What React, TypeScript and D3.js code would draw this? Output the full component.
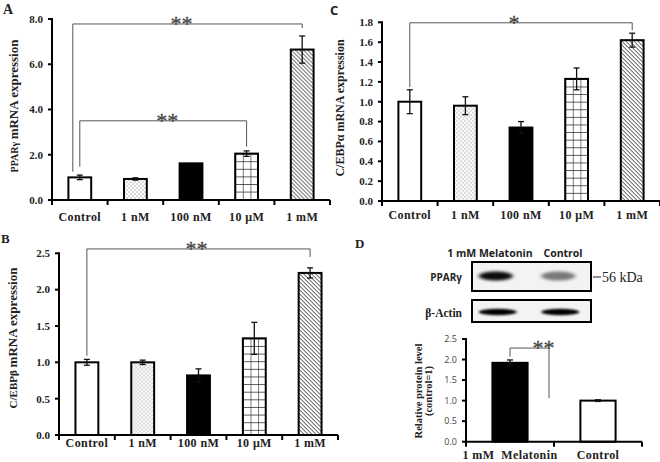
import React from 'react';
import * as d3 from 'd3';

// ---------- DATA ----------
const categories = ['Control', '1 nM', '100 nM', '10 μM', '1 mM'];
const fillKinds = ['white', 'dots', 'black', 'grid', 'diag'];

const pparValues = [1.0, 0.93, 1.62, 2.05, 6.65];
const pparErrors = [0.1, 0.05, 0, 0.12, 0.6];
const pparTicks = [0, 2, 4, 6, 8];

const cebpaValues = [1.0, 0.96, 0.74, 1.23, 1.62];
const cebpaErrors = [0.12, 0.09, 0.06, 0.11, 0.07];
const cebpaTicks = [0, 0.2, 0.4, 0.6, 0.8, 1.0, 1.2, 1.4, 1.6, 1.8];

const cebpbValues = [1.0, 1.0, 0.82, 1.33, 2.23];
const cebpbErrors = [0.04, 0.03, 0.09, 0.22, 0.07];
const cebpbTicks = [0, 0.5, 1.0, 1.5, 2.0, 2.5];

const proteinCategories = ['1 mM  Melatonin', 'Control'];
const proteinFills = ['black', 'white'];
const proteinValues = [1.92, 1.0];
const proteinErrors = [0.07, 0.02];
const proteinTicks = [0, 0.5, 1.0, 1.5, 2.0, 2.5];

const blotLanes = ['1 mM Melatonin', 'Control'];
const pparBandIntensity = [0.95, 0.5];
const actinBandIntensity = [1.0, 1.0];

// ---------- LAYOUT ----------
const serif = '"Liberation Serif", "Times New Roman", serif';
const sans = '"Open Sans", "Noto Sans", sans-serif';

type Bracket = { from: number; to: number; level: number; fromEnd: number; toEnd: number; dxFrom?: number; dxTo?: number; starDx?: number; text: string };

type PanelCfg = {
  id: string;
  cats: string[];
  fills: string[];
  values: number[];
  errors: number[];
  ticks: number[];
  max: number;
  x0: number; x1: number; yb: number; yt: number;
  pad: number;
  labelX: number; labelY: number;
  labelParts: [string, number][];
  labelLines?: string[];
  xLabelY: number;
  xLabelSize: number;
  tickFont: string; tickSize: number; tickColor: string;
  brackets: Bracket[];
};

const panels: PanelCfg[] = [
  {
    id: 'A', cats: categories, fills: fillKinds, values: pparValues, errors: pparErrors, ticks: pparTicks, max: 8,
    x0: 52, x1: 330, yb: 200, yt: 19, pad: 0.59,
    labelX: 12, labelY: 106, labelParts: [['PPARγ ', 10], ['mRNA expression', 13]],
    xLabelY: 221, xLabelSize: 12, tickFont: serif, tickSize: 11, tickColor: '#222',
    brackets: [
      { from: 0, to: 4, level: 7.78, fromEnd: 1.25, toEnd: 7.6, dxFrom: -7, starDx: -6, text: '**' },
      { from: 0, to: 3, level: 3.5, fromEnd: 1.47, toEnd: 2.36, starDx: 4, text: '**' },
    ],
  },
  {
    id: 'C', cats: categories, fills: fillKinds, values: cebpaValues, errors: cebpaErrors, ticks: cebpaTicks, max: 1.8,
    x0: 382, x1: 660, yb: 201, yt: 22.3, pad: 0.59,
    labelX: 338, labelY: 108, labelParts: [['C/EBPα mRNA expression', 12]],
    xLabelY: 219, xLabelSize: 12, tickFont: serif, tickSize: 11, tickColor: '#222',
    brackets: [{ from: 0, to: 4, level: 1.795, fromEnd: 1.148, toEnd: 1.72, starDx: -7, text: '*' }],
  },
  {
    id: 'B', cats: categories, fills: fillKinds, values: cebpbValues, errors: cebpbErrors, ticks: cebpbTicks, max: 2.5,
    x0: 59, x1: 338, yb: 435, yt: 253.3, pad: 0.59,
    labelX: 11, labelY: 338, labelParts: [['C/EBPβ ', 11], ['mRNA expression', 13]],
    xLabelY: 447, xLabelSize: 12, tickFont: serif, tickSize: 11, tickColor: '#222',
    brackets: [{ from: 0, to: 4, level: 2.56, fromEnd: 1.09, toEnd: 2.45, starDx: -2, text: '**' }],
  },
  {
    id: 'D', cats: proteinCategories, fills: proteinFills, values: proteinValues, errors: proteinErrors, ticks: proteinTicks, max: 2.5,
    x0: 466, x1: 642, yb: 441.7, yt: 339, pad: 0.6,
    labelX: 418, labelY: 391, labelParts: [], labelLines: ['Relative protein level', '(control=1)'],
    xLabelY: 459, xLabelSize: 12, tickFont: sans, tickSize: 9, tickColor: '#444',
    brackets: [{ from: 0, to: 1, level: 2.28, fromEnd: 2.07, toEnd: 1.06, dxTo: -49, starDx: 14, text: '**' }],
  },
];

function fillFor(kind: string, pid: string) {
  if (kind === 'white') return '#fff';
  if (kind === 'black') return '#000';
  return `url(#${kind}-${pid})`;
}

function Panel({ cfg }: { cfg: PanelCfg }) {
  const x = d3.scaleBand<string>().domain(cfg.cats).range([cfg.x0, cfg.x1]).paddingInner(cfg.pad).paddingOuter(cfg.pad / 2);
  const y = d3.scaleLinear().domain([0, cfg.max]).range([cfg.yb, cfg.yt]);
  const bw = x.bandwidth();
  const step = x.step();
  const fmt = d3.format('.1f');
  const bounds = d3.range(cfg.cats.length + 1).map(i => cfg.x0 + i * step);
  const cx = (i: number) => (x(cfg.cats[i]) as number) + bw / 2;
  return (
    <g>
      <defs>
        {cfg.cats.map((c, i) => {
          const k = cfg.fills[i];
          const bx = x(c) as number;
          const by = y(cfg.values[i]);
          if (k === 'grid')
            return (
              <pattern key={i} id={`grid-${cfg.id}`} patternUnits="userSpaceOnUse" width={bw / 3} height={bw / 3} x={bx} y={by}>
                <rect width={bw / 3} height={bw / 3} fill="#fff" />
                <path d={`M0,0H${bw / 3}M0,0V${bw / 3}`} stroke="#222" strokeWidth={1.2} />
              </pattern>
            );
          if (k === 'dots')
            return (
              <pattern key={i} id={`dots-${cfg.id}`} patternUnits="userSpaceOnUse" width={4} height={4} x={bx} y={by}>
                <rect width={4} height={4} fill="#fff" />
                <circle cx={1} cy={1} r={0.55} fill="#555" />
                <circle cx={3} cy={3} r={0.55} fill="#555" />
              </pattern>
            );
          if (k === 'diag')
            return (
              <pattern key={i} id={`diag-${cfg.id}`} patternUnits="userSpaceOnUse" width={4} height={4} x={bx} y={by}>
                <rect width={4} height={4} fill="#fff" />
                <path d="M-1,-1L5,5M-1,3L1,5M3,-1L5,1" stroke="#333" strokeWidth={1} />
              </pattern>
            );
          return null;
        })}
      </defs>
      {/* bars */}
      {cfg.cats.map((c, i) => (
        <rect key={c} x={x(c)} y={y(cfg.values[i])} width={bw} height={y(0) - y(cfg.values[i])}
          fill={fillFor(cfg.fills[i], cfg.id)} stroke="#000" strokeWidth={2} />
      ))}
      {/* error bars */}
      {cfg.cats.map((c, i) => {
        const e = cfg.errors[i];
        if (!e) return null;
        const xc = cx(i);
        const t = y(cfg.values[i] + e), b = y(cfg.values[i] - e);
        return (
          <g key={c} stroke="#111" strokeWidth={1.3}>
            <line x1={xc} x2={xc} y1={t} y2={b} />
            <line x1={xc - 3} x2={xc + 3} y1={t} y2={t} />
            <line x1={xc - 3} x2={xc + 3} y1={b} y2={b} />
          </g>
        );
      })}
      {/* axes */}
      <g stroke="#000" strokeWidth={2}>
        <line x1={cfg.x0} x2={cfg.x0} y1={cfg.yt - 1} y2={cfg.yb + 1} />
        <line x1={cfg.x0 - 1} x2={cfg.x1} y1={cfg.yb} y2={cfg.yb} />
        {cfg.ticks.map(t => (
          <line key={t} x1={cfg.x0 - 4} x2={cfg.x0} y1={y(t)} y2={y(t)} />
        ))}
        {bounds.map((b, i) => (
          <line key={i} x1={b} x2={b} y1={cfg.yb} y2={cfg.yb + 5} />
        ))}
      </g>
      {cfg.ticks.map(t => (
        <text key={t} x={cfg.x0 - 9} y={y(t)} dy="0.35em" textAnchor="end" fontFamily={cfg.tickFont}
          fontWeight={cfg.tickFont === serif ? 'bold' : 'normal'} fontSize={cfg.tickSize} fill={cfg.tickColor}>
          {fmt(t)}
        </text>
      ))}
      {cfg.cats.map((c, i) => (
        <text key={c} x={cx(i)} y={cfg.xLabelY} textAnchor="middle" fontFamily={serif} fontWeight="bold"
          fontSize={cfg.xLabelSize} letterSpacing={0.4} fill="#222" style={{ whiteSpace: 'pre' }}>
          {c}
        </text>
      ))}
      {/* y label */}
      {cfg.labelLines ? (
        cfg.labelLines.map((l, i) => (
          <text key={l} transform={`translate(${cfg.labelX + i * 10},${cfg.labelY}) rotate(-90)`} textAnchor="middle"
            dy="0.35em" fontFamily={serif} fontWeight="bold" fontSize={10.5} fill="#222">{l}</text>
        ))
      ) : (
        <text transform={`translate(${cfg.labelX},${cfg.labelY}) rotate(-90)`} textAnchor="middle" dy="0.35em"
          fontFamily={serif} fontWeight="bold" fill="#222" style={{ whiteSpace: 'pre' }}>
          {cfg.labelParts.map(([s, fs], i) => (
            <tspan key={i} fontSize={fs}>{s}</tspan>
          ))}
        </text>
      )}
      {/* significance brackets */}
      {cfg.brackets.map((br, i) => {
        const xa = cx(br.from) + (br.dxFrom || 0);
        const xb = cx(br.to) + (br.dxTo || 0);
        const ly = y(br.level);
        return (
          <g key={i}>
            <path d={`M${xa},${y(br.fromEnd)}V${ly}H${xb}V${y(br.toEnd)}`} fill="none" stroke="#555" strokeWidth={1} />
            <text x={(xa + xb) / 2 + (br.starDx || 0)} y={ly + 7} textAnchor="middle" fontFamily={serif}
              fontSize={22} fill="#444" stroke="#444" strokeWidth={0.3}>{br.text}</text>
          </g>
        );
      })}
    </g>
  );
}

function Blot() {
  const bx = d3.scaleBand<string>().domain(blotLanes).range([472, 591]).paddingInner(0.1).paddingOuter(0.05);
  const bw = bx.bandwidth();
  const headerX = [490, 563];
  return (
    <g>
      <defs>
        <filter id="blur1" x="-50%" y="-100%" width="200%" height="300%">
          <feGaussianBlur stdDeviation="2.2 1.6" />
        </filter>
        <filter id="blur2" x="-50%" y="-100%" width="200%" height="300%">
          <feGaussianBlur stdDeviation="1.5 1.0" />
        </filter>
      </defs>
      {blotLanes.map((l, i) => (
        <text key={l} x={headerX[i]} y={257} textAnchor="middle" fontFamily={sans} fontWeight="bold"
          fontSize={10.5} fill="#222">{l}</text>
      ))}
      <rect x={472} y={262} width={119} height={29} fill="#f3f3f3" stroke="#000" strokeWidth={2} />
      {blotLanes.map((l, i) => (
        <ellipse key={l} cx={(bx(l) as number) + bw / 2 - 6 + i * 3} cy={276} rx={17} ry={4.5} fill="#000"
          opacity={pparBandIntensity[i]} filter="url(#blur1)" />
      ))}
      <rect x={472} y={300} width={119} height={22} fill="#f3f3f3" stroke="#000" strokeWidth={2} />
      {blotLanes.map((l, i) => (
        <ellipse key={l} cx={(bx(l) as number) + bw / 2 - 4 + i * 3} cy={312} rx={19} ry={3.2} fill="#000"
          opacity={actinBandIntensity[i]} filter="url(#blur2)" />
      ))}
      <text x={462} y={277} dy="0.35em" textAnchor="end" fontFamily={sans} fontWeight="bold" fontSize={10} fill="#222">PPARγ</text>
      <text x={462} y={313} dy="0.35em" textAnchor="end" fontFamily={serif} fontWeight="bold" fontSize={11.5} fill="#222">β-Actin</text>
      <line x1={593} x2={601} y1={277} y2={277} stroke="#222" strokeWidth={1} />
      <text x={602} y={277} dy="0.35em" fontFamily={serif} fontSize={14} fill="#222">56 kDa</text>
    </g>
  );
}

export default function App() {
  return (
    <svg width={660} height={462} viewBox="0 0 660 462" style={{ display: 'block', position: 'absolute', left: 0, top: 0, background: '#fff' }}>
      <rect width={660} height={462} fill="#fff" />
      {panels.map(p => (
        <Panel key={p.id} cfg={p} />
      ))}
      <Blot />
      <text x={3} y={14} fontFamily={serif} fontWeight="bold" fontSize={14} fill="#222">A</text>
      <text x={330} y={15} fontFamily={sans} fontWeight="bold" fontSize={13} fill="#222">C</text>
      <text x={1} y={243} fontFamily={serif} fontWeight="bold" fontSize={13} fill="#222">B</text>
      <text x={355} y={248} fontFamily={serif} fontWeight="bold" fontSize={13} fill="#222">D</text>
    </svg>
  );
}
